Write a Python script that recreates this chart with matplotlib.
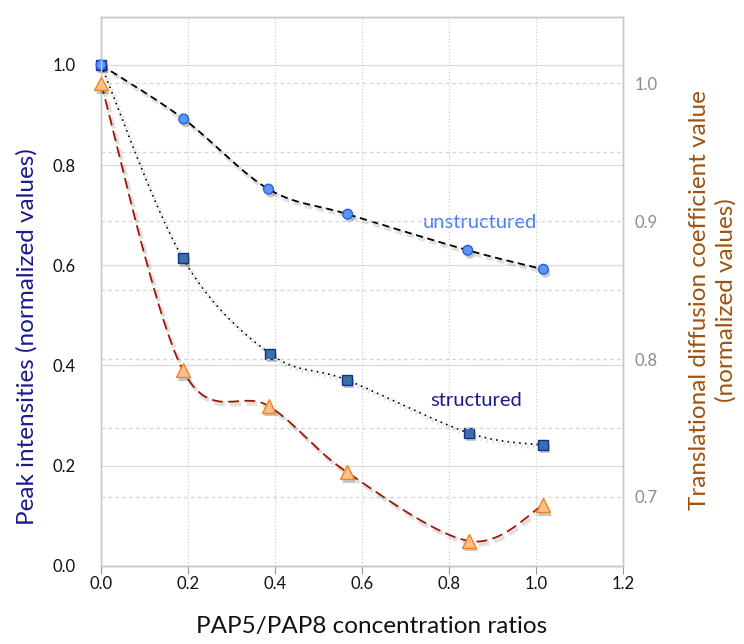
import numpy as np
import matplotlib
matplotlib.use('Agg')
import matplotlib.pyplot as plt
import matplotlib.patheffects as pe

plt.rcParams['font.family'] = ['Lato', 'DejaVu Sans']

# ratios PAP5/PAP8
ratio_circ = [0.0, 0.19, 0.385, 0.567, 0.843, 1.017]
unstructured = [1.0, 0.892, 0.752, 0.702, 0.630, 0.592]

ratio_sq = [0.0, 0.188, 0.389, 0.565, 0.846, 1.016]
structured = [1.0, 0.614, 0.423, 0.371, 0.265, 0.241]

# diffusion coefficient (right axis)
ratio_tri = [0.0, 0.188, 0.385, 0.565, 0.846, 1.016]
diffusion = [1.0, 0.792, 0.766, 0.718, 0.668, 0.694]

xticks = [0.0, 0.2, 0.4, 0.6, 0.8, 1.0, 1.2]
yticks_left = [0.0, 0.2, 0.4, 0.6, 0.8, 1.0]
yticks_right = [0.7, 0.8, 0.9, 1.0]


def smooth(xs, ys, n=30):
    # excel style smoothed line (bezier through the points)
    p = np.column_stack([xs, ys]).astype(float)
    p = np.vstack([p[0], p, p[-1]])
    out = []
    t = np.linspace(0, 1, n)[:, None]
    for i in range(1, len(p) - 2):
        p0, p1, p2, p3 = p[i - 1], p[i], p[i + 1], p[i + 2]
        c1 = p1 + (p2 - p0) / 6
        c2 = p2 - (p3 - p1) / 6
        seg = ((1 - t) ** 3) * p1 + 3 * ((1 - t) ** 2) * t * c1 + 3 * (1 - t) * t ** 2 * c2 + t ** 3 * p2
        out.append(seg)
    out = np.vstack(out)
    return out[:, 0], out[:, 1]


shadow = [pe.SimpleLineShadow(offset=(1.5, -2), alpha=0.12, shadow_color='k', linewidth=3), pe.Normal()]
mshadow = [pe.SimplePatchShadow(offset=(1.5, -2.5), alpha=0.22, shadow_rgbFace='k'), pe.Normal()]

fig = plt.figure(figsize=(7.44, 6.44), dpi=100)
ax = fig.add_axes([0.1358, 0.1214, 0.7016, 0.8517])
ax2 = ax.twinx()

ax.set_xlim(0, 1.2)
ax.set_ylim(0, 1.095)
ax2.set_ylim(0.65, 1.048)

ax.set_xticks(xticks)
ax.set_xticklabels(['%.1f' % v for v in xticks])
ax.set_yticks(yticks_left)
ax.set_yticklabels(['%.1f' % v for v in yticks_left])
ax2.set_yticks(yticks_right)
ax2.set_yticklabels(['%.1f' % v for v in yticks_right])

# gridlines
for v in yticks_left[1:]:
    ax.axhline(v, color='#dcdcdc', lw=1.0, zorder=0)
for v in xticks[1:-1]:
    ax.axvline(v, color='#c8c8c8', lw=0.8, ls=(0, (1, 2)), zorder=0)
for v in np.arange(0.70, 1.04, 0.05):
    ax2.axhline(v, color='#d6d6d6', lw=0.9, ls=(0, (3, 2.5)), zorder=0)

for a in (ax, ax2):
    for s in a.spines.values():
        s.set_color('#c8c8c8')
        s.set_linewidth(1.0)
ax.spines['bottom'].set_color('#b0b0b0')

ax.tick_params(axis='x', direction='out', length=6, color='#999999', labelsize=12, pad=1, labelcolor='#111111')
ax.tick_params(axis='y', length=0, labelsize=12, pad=18, labelcolor='#111111')
ax2.tick_params(axis='y', length=0, labelsize=12, pad=8, labelcolor='#8c8c8c')

# unstructured
sx, sy = smooth(ratio_circ, unstructured)
ax.plot(sx, sy, color='black', lw=1.3, ls=(0, (4, 2.5)), path_effects=shadow, zorder=3)
ax.plot(ratio_circ, unstructured, ls='none', marker='o', ms=7, mfc='#5a96f2', mec='#2a5ee0', mew=1.0,
        path_effects=mshadow, zorder=5, clip_on=False)

# structured
sx, sy = smooth(ratio_sq, structured)
ax.plot(sx, sy, color='black', lw=1.2, ls=(0, (1, 2.5)), path_effects=shadow, zorder=3)
ax.plot(ratio_sq, structured, ls='none', marker='s', ms=7, mfc='#3c6ea8', mec='#14308e', mew=1.0,
        path_effects=mshadow, zorder=4, clip_on=False)

# diffusion coefficient
sx, sy = smooth(ratio_tri, diffusion)
ax2.plot(sx, sy, color='#a01808', lw=1.3, ls=(0, (6, 3)), path_effects=shadow, zorder=3)
ax2.plot(ratio_tri, diffusion, ls='none', marker='^', ms=10, mfc='#fbbf8e', mec='#f0841f', mew=1.0,
         path_effects=mshadow, zorder=5, clip_on=False)

ax.text(0.871, 0.686, 'unstructured', color='#4a7ef2', fontsize=14.5, ha='center', va='center')
ax.text(0.862, 0.331, 'structured', color='#1a1a8c', fontsize=14.5, ha='center', va='center')

fig.text(0.5, 0.027, 'PAP5/PAP8 concentration ratios', fontsize=17.5, ha='center', va='center', color='#111111')
fig.text(0.036, 0.477, 'Peak intensities (normalized values)', fontsize=17.5, rotation=90,
         ha='center', va='center', color='#1a1a8c')
fig.text(0.958, 0.534, 'Translational diffusion coefficient value\n(normalized values)', fontsize=17.5,
         rotation=90, ha='center', va='center', color='#a0520f', linespacing=1.25)

fig.savefig('out.png', dpi=100)
